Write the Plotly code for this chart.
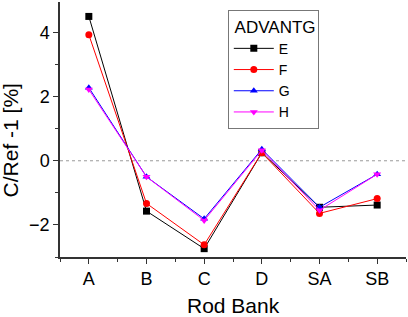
import plotly.graph_objects as go

categories = ["A", "B", "C", "D", "SA", "SB"]
series_names = ["E", "F", "G", "H"]
E = [4.50, -1.57, -2.74, 0.25, -1.45, -1.38]
F = [3.93, -1.33, -2.62, 0.25, -1.64, -1.18]
G = [2.28, -0.50, -1.81, 0.36, -1.45, -0.42]
H = [2.22, -0.50, -1.86, 0.33, -1.54, -0.42]
y_ticks = [-2, 0, 2, 4]
x_title = "Rod Bank"
y_title = "C/Ref -1 [%]"
legend_title = "ADVANTG"

colors = ["black", "red", "blue", "magenta"]
symbols = ["square", "circle", "triangle-up", "triangle-down"]
data = [E, F, G, H]

fig = go.Figure()
x_idx = list(range(len(categories)))
for name, vals, c, s in zip(series_names, data, colors, symbols):
    fig.add_trace(go.Scatter(
        x=x_idx, y=vals, name=name, mode="lines+markers",
        line=dict(color=c, width=1),
        marker=dict(symbol=s, color=c, size=7),
    ))

fig.add_shape(type="line", xref="paper", yref="y", x0=0, x1=1, y0=0, y1=0,
              line=dict(color="#999999", width=1, dash="dot"), layer="below")

fig.add_annotation(text=x_title, xref="paper", yref="paper", x=0.5, y=-0.192,
                   xanchor="center", yanchor="middle", showarrow=False,
                   font=dict(size=21))
fig.add_annotation(text=y_title, xref="paper", yref="paper", x=-0.1445, y=0.457,
                   xanchor="center", yanchor="middle", showarrow=False, textangle=-90,
                   font=dict(size=21))

fig.update_layout(
    width=408, height=317,
    margin=dict(l=60, r=2, t=2, b=60),
    paper_bgcolor="white", plot_bgcolor="white",
    font=dict(family="Liberation Sans, Arial, sans-serif", size=17, color="black"),
    showlegend=True,
    legend=dict(
        title=dict(text=" " + legend_title, font=dict(size=17)),
        x=0.485, y=0.97, xanchor="left", yanchor="top",
        bordercolor="#777777", borderwidth=1, bgcolor="white",
        font=dict(size=14), tracegroupgap=0, itemwidth=40,
    ),
    xaxis=dict(
        range=[-0.5, 5.5], tickmode="array", tickvals=x_idx, ticktext=categories,
        showgrid=False, zeroline=False, showline=True, linecolor="#333333", linewidth=1.5,
        ticks="outside", ticklen=5, tickcolor="#333333",
        minor=dict(tickvals=[i + 0.5 for i in range(-1, 6)], ticks="outside", ticklen=3, tickcolor="#333333"),
        tickfont=dict(size=18),
    ),
    yaxis=dict(
        range=[-3, 4.95], tickmode="array", tickvals=y_ticks,
        showgrid=False, zeroline=False, showline=True, linecolor="#333333", linewidth=1.5,
        ticks="outside", ticklen=5, tickcolor="#333333",
        minor=dict(tickvals=[-3, -1, 1, 3], ticks="outside", ticklen=3, tickcolor="#333333"),
        tickfont=dict(size=18),
    ),
)

fig.write_html("out.html", config={"displayModeBar": False},
               post_script="document.body.style.margin='0';document.body.style.overflow='hidden';")
